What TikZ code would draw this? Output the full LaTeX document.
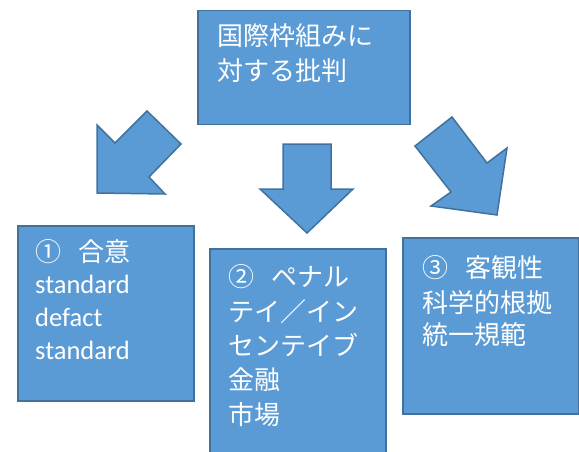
\documentclass[tikz,border=0pt]{standalone}
\usepackage{fontspec}
\setmainfont{Carlito}
\newfontfamily\cjk{Noto Sans CJK JP}
\definecolor{boxfill}{HTML}{5B9BD5}
\definecolor{boxline}{HTML}{41719C}
\begin{document}
\begin{tikzpicture}[x=1pt,y=-1pt,
  blk/.style={fill=boxfill,draw=boxline,line width=1.5pt,line join=miter},
  boxnode/.style={blk,rectangle,inner sep=0pt,anchor=north west},
  txt/.style={text=white,anchor=base west,inner sep=0pt,font=\fontsize{26}{30}\selectfont},
  lat/.style={txt,font=\fontsize{26.5}{30}\selectfont}]
\useasboundingbox (0,0) rectangle (579,452);
% boxes
\node[boxnode,minimum width=212pt,minimum height=114pt] (top) at (197,10) {};
\node[boxnode,minimum width=176pt,minimum height=175pt] (b1) at (17,225) {};
\node[boxnode,minimum width=176pt,minimum height=215pt] (b2) at (209,248) {};
\node[boxnode,minimum width=176pt,minimum height=176pt] (b3) at (402,237) {};
% arrows
\draw[blk] (97,193) -- (97,125) -- (115,143) -- (147,111) -- (181,144) -- (149,177) -- (165,194) -- cycle;
\draw[blk] (283,144) -- (331,144) -- (331,189) -- (353,189) -- (307,233) -- (260,189) -- (283,189) -- cycle;
\draw[blk] (497,215) -- (431,206) -- (451,192) -- (415,146) -- (452,117) -- (487,163) -- (507,148) -- cycle;
% texts
\node[txt] (t0a) at (217,45.5) {\cjk 国際枠組みに};
\node[txt] (t0b) at (217,80.5) {\cjk 対する批判};
\node[txt] (t1a) at (35,261.5) {\cjk ①\hspace{17pt}合意};
\node[lat] (t1b) at (35,293) {standard};
\node[lat] (t1c) at (35,326) {defact};
\node[lat] (t1d) at (35,359) {standard};
\node[txt] (t2a) at (228,286.5) {\cjk ②\hspace{17pt}ペナル};
\node[txt] (t2b) at (228,321.5) {\cjk テイ／イン};
\node[txt] (t2c) at (228,355) {\cjk センテイブ};
\node[txt] (t2d) at (228,389.5) {\cjk 金融};
\node[txt] (t2e) at (228,424.5) {\cjk 市場};
\node[txt] (t3a) at (422,277.5) {\cjk ③\hspace{17pt}客観性};
\node[txt] (t3b) at (422,312.5) {\cjk 科学的根拠};
\node[txt] (t3c) at (422,344.5) {\cjk 統一規範};
\end{tikzpicture}
\end{document}
